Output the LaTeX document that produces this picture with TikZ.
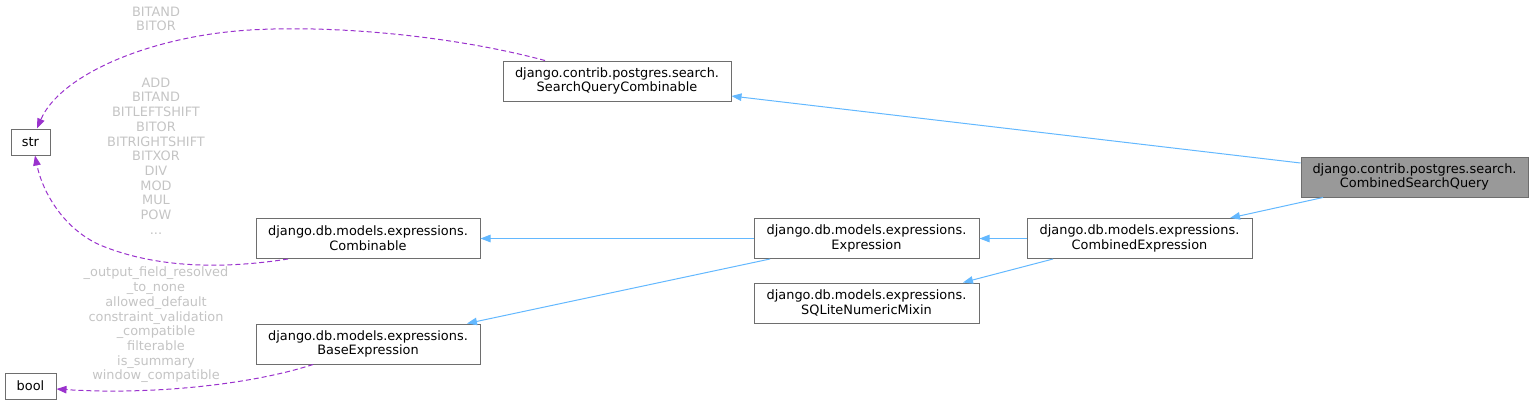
\documentclass[tikz,border=0pt]{standalone}
\usepackage{fontspec}
\setmainfont{DejaVu Sans}
\usetikzlibrary{arrows.meta}
\definecolor{edgeblue}{HTML}{63B8FF}
\definecolor{edgepurple}{HTML}{9A32CD}
\definecolor{lblgray}{HTML}{C4C4C4}
\definecolor{boxborder}{HTML}{6E6E6E}
\definecolor{hifill}{HTML}{999999}
\tikzset{
  cls/.style={draw=boxborder, line width=1pt, fill=white, inner sep=0pt, align=center,
    font=\fontsize{12.9}{14.7}\selectfont, text=black},
  wide/.style={minimum width=#1pt, minimum height=40pt},
  small/.style={minimum width=#1pt, minimum height=26pt},
  inh/.style={draw=edgeblue, line width=1pt, -{Triangle[length=10pt,width=7.5pt]}},
  use/.style={draw=edgepurple, line width=1pt, dash pattern=on 5pt off 3pt,
    -{Triangle[length=10pt,width=7.5pt]}},
  lbl/.style={text=lblgray, align=center, inner sep=0pt,
    font=\fontsize{12.9}{14.7}\selectfont}
}
\begin{document}
\begin{tikzpicture}[x=1pt,y=-1pt]
\useasboundingbox (0,0) rectangle (1533,405);
% nodes
\node[cls, small=39] (str) at (30.5,142) {str};
\node[cls, small=51] (bool) at (30.5,386) {bool};
\node[cls, wide=228] (sqc) at (617,81) {django.contrib.postgres.search.\\SearchQueryCombinable};
\node[cls, wide=227, fill=hifill] (csq) at (1414.5,177) {django.contrib.postgres.search.\\CombinedSearchQuery};
\node[cls, wide=225] (ce) at (1139.5,238.5) {django.db.models.expressions.\\CombinedExpression};
\node[cls, wide=224] (comb) at (368,238.5) {django.db.models.expressions.\\Combinable};
\node[cls, wide=224] (base) at (368,344) {django.db.models.expressions.\\BaseExpression};
\node[cls, wide=225] (expr) at (866.5,238.5) {django.db.models.expressions.\\Expression};
\node[cls, wide=225] (sqlite) at (866.5,303) {django.db.models.expressions.\\SQLiteNumericMixin};
% inheritance edges
\draw[inh] ([yshift=14pt]csq.west) -- ([yshift=-15pt]sqc.east);
\draw[inh] ([xshift=-91.5pt]csq.south) -- ([xshift=90.5pt]ce.north);
\draw[inh] (ce.west) -- (expr.east);
\draw[inh] ([xshift=-86.5pt]ce.south) -- ([xshift=96.5pt]sqlite.north);
\draw[inh] (expr.west) -- (comb.east);
\draw[inh] ([xshift=-96.5pt]expr.south) -- ([xshift=99pt]base.north);
% usage edges
\draw[use] ([xshift=-72pt]sqc.north) .. controls (450,35) and (330,25) .. (250,30)
  .. controls (150,36) and (60,75) .. ([xshift=6.5pt]str.north);
\draw[use] ([xshift=-80pt]comb.south) .. controls (230,268) and (160,270) .. (100,245)
  .. controls (62,228) and (42,190) .. ([xshift=4.5pt]str.south);
\draw[use] ([xshift=-55pt]base.south) .. controls (250,385) and (150,395) .. ([yshift=-3pt]bool.east);
% labels
\node[lbl] (l1) at (156,19) {BITAND\\BITOR};
\node[lbl] (l2) at (156,156) {ADD\\BITAND\\BITLEFTSHIFT\\BITOR\\BITRIGHTSHIFT\\BITXOR\\DIV\\MOD\\MUL\\POW\\...};
\node[lbl] (l3) at (156,325) {\_output\_field\_resolved\\\_to\_none\\allowed\_default\\constraint\_validation\\\_compatible\\filterable\\is\_summary\\window\_compatible};
\end{tikzpicture}
\end{document}
